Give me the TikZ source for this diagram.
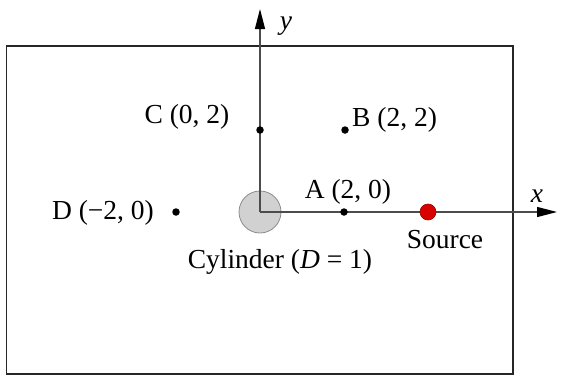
\documentclass[tikz,border=0pt]{standalone}
\usepackage{fontspec}
\setmainfont{Liberation Serif}
\usetikzlibrary{arrows.meta}
\begin{document}
\begin{tikzpicture}[x=1pt,y=-1pt,
  lbl/.style={font=\fontsize{27.5}{32}\selectfont, inner sep=0pt},
  pt/.style={circle, fill=black, inner sep=0pt, minimum size=7.5pt},
  axis/.style={draw=black!70, line width=1.3pt, -{Triangle[length=20pt,width=10pt,color=black]}}]
\useasboundingbox (0,0) rectangle (566,378);
\draw[line width=1.6pt, black!85] (6.5,46) rectangle (513,374);
\node[circle, fill=black!18, draw=black!45, line width=0.8pt, minimum size=42pt, inner sep=0pt] (cyl) at (260,212) {};
\coordinate (O) at (260,212);
\coordinate (ytip) at (260,9);
\coordinate (xtip) at (557,212);
\draw[axis] (O) -- (ytip);
\draw[axis] (O) -- (xtip);
\node[lbl, font=\fontsize{27.5}{32}\selectfont\itshape] (ylab) at (286,26) {y};
\node[lbl, font=\fontsize{27.5}{32}\selectfont\itshape] (xlab) at (537,196) {x};
\node[pt] (A) at (344,212) {};
\node[pt] (B) at (345,130) {};
\node[pt] (C) at (260,130) {};
\node[pt] (D) at (176,212) {};
\node[circle, fill=red!85!black, draw=red!60!black, line width=0.6pt, inner sep=0pt, minimum size=16pt] (S) at (428,212) {};
\node[lbl] (Al) at (348,192) {A (2, 0)};
\node[lbl, anchor=west] (Bl) at (352,120) {B (2, 2)};
\node[lbl] (Cl) at (187,117) {C (0, 2)};
\node[lbl] (Dl) at (103,213) {D (\textminus2, 0)};
\node[lbl] (Sl) at (445,240) {Source};
\node[lbl] (Cyl) at (280,262) {Cylinder (\textit{D} = 1)};
\end{tikzpicture}
\end{document}
